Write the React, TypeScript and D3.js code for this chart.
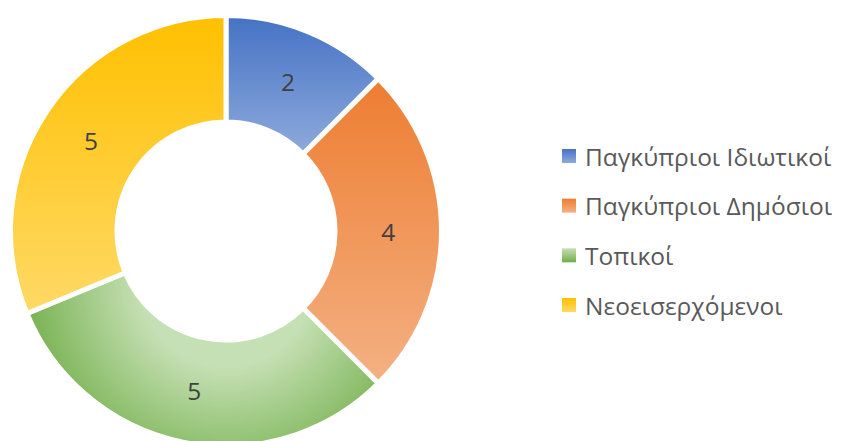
import React, { useEffect, useRef } from "react";
import * as d3 from "d3";

const categories = ["Παγκύπριοι Ιδιωτικοί", "Παγκύπριοι Δημόσιοι", "Τοπικοί", "Νεοεισερχόμενοι"];
const values = [2, 4, 5, 5];
const darkColors = ["#4472C4", "#ED7D31", "#70AD47", "#FFC000"];
const lightColors = ["#8FAADC", "#F4B183", "#C5E0B4", "#FFD966"];

const W = 841;
const H = 441;

export default function App() {
  const ref = useRef<SVGSVGElement>(null);

  useEffect(() => {
    const svg = d3.select(ref.current);
    svg.selectAll("*").remove();

    const cx = 226;
    const cy = 231;
    const outerR = 215.5;
    const innerR = 109;

    const defs = svg.append("defs");
    categories.forEach((c, i) => {
      if (i === 2) {
        const g = defs
          .append("radialGradient")
          .attr("id", `grad${i}`)
          .attr("gradientUnits", "userSpaceOnUse")
          .attr("cx", 0)
          .attr("cy", 50)
          .attr("r", 215)
          .attr("fx", 0)
          .attr("fy", 50);
        g.append("stop").attr("offset", "0%").attr("stop-color", lightColors[i]);
        g.append("stop").attr("offset", "40%").attr("stop-color", lightColors[i]);
        g.append("stop").attr("offset", "100%").attr("stop-color", darkColors[i]);
      } else {
        const g = defs
          .append("linearGradient")
          .attr("id", `grad${i}`)
          .attr("x1", 0)
          .attr("y1", 0)
          .attr("x2", 0)
          .attr("y2", 1);
        g.append("stop").attr("offset", "0%").attr("stop-color", darkColors[i]);
        g.append("stop").attr("offset", "100%").attr("stop-color", lightColors[i]);
      }
      const lg = defs
        .append("linearGradient")
        .attr("id", `lgrad${i}`)
        .attr("x1", 0)
        .attr("y1", 0)
        .attr("x2", 0)
        .attr("y2", 1);
      lg.append("stop").attr("offset", "0%").attr("stop-color", i === 2 ? lightColors[i] : darkColors[i]);
      lg.append("stop").attr("offset", "100%").attr("stop-color", i === 2 ? darkColors[i] : lightColors[i]);
    });

    const pie = d3.pie<number>().sort(null).value((d) => d);
    const arcs = pie(values);
    const arc = d3.arc<d3.PieArcDatum<number>>().innerRadius(innerR).outerRadius(outerR);

    const g = svg.append("g").attr("transform", `translate(${cx},${cy})`);
    g.selectAll("path")
      .data(arcs)
      .enter()
      .append("path")
      .attr("d", arc)
      .attr("fill", (_d, i) => `url(#grad${i})`)
      .attr("stroke", "#ffffff")
      .attr("stroke-width", 5)
      .attr("stroke-linejoin", "miter");

    g.selectAll("text.lbl")
      .data(arcs)
      .enter()
      .append("text")
      .attr("class", "lbl")
      .attr("x", (d) => arc.centroid(d)[0])
      .attr("y", (d) => arc.centroid(d)[1])
      .attr("text-anchor", "middle")
      .attr("dominant-baseline", "central")
      .attr("font-family", "'Open Sans', sans-serif")
      .attr("font-size", 24.5)
      .attr("fill", "#404040")
      .text((d) => String(d.data));

    const legendY = d3.scaleLinear().domain([0, categories.length - 1]).range([156, 305]);
    const lg = svg.append("g");
    categories.forEach((c, i) => {
      const y = legendY(i);
      lg.append("rect")
        .attr("x", 562)
        .attr("y", y - 7)
        .attr("width", 14)
        .attr("height", 14)
        .attr("fill", `url(#lgrad${i})`);
      lg.append("text")
        .attr("x", 585)
        .attr("y", y)
        .attr("dominant-baseline", "central")
        .attr("font-family", "'Open Sans', sans-serif")
        .attr("font-size", 24.5)
        .attr("fill", "#595959")
        .text(c);
    });
  }, []);

  return (
    <svg
      ref={ref}
      width={W}
      height={H}
      style={{ position: "absolute", left: 0, top: 0, background: "#ffffff" }}
    />
  );
}
